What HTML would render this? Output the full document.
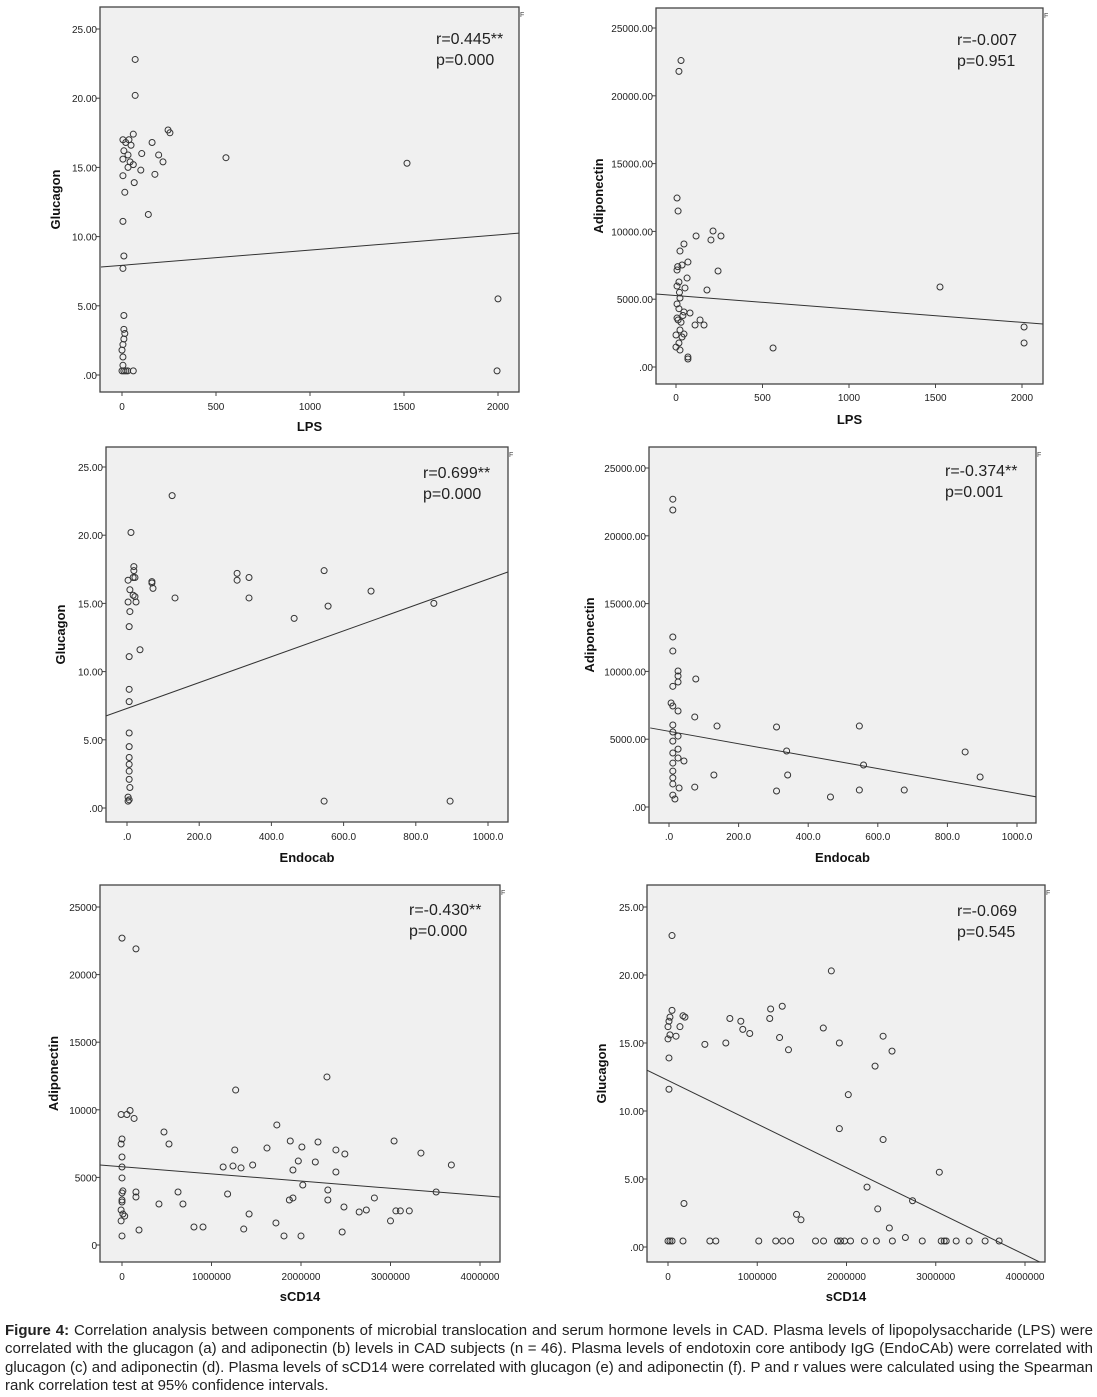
<!DOCTYPE html>
<html><head><meta charset="utf-8"><style>
body{margin:0;background:#fff;width:1097px;height:1397px;position:relative;overflow:hidden;font-family:"Liberation Sans",Arial,sans-serif}
#cap{position:absolute;left:5px;top:1322px;width:1088px;font-size:15px;line-height:18.3px;color:#222}
#cap div{white-space:nowrap;text-align:justify;text-align-last:justify}
#cap div.last{text-align-last:left}
</style></head><body>
<svg id="chart" width="1097" height="1320" style="position:absolute;left:0;top:0" xmlns="http://www.w3.org/2000/svg"></svg>
<div id="cap">
<div><b>Figure 4:</b> Correlation analysis between components of microbial translocation and serum hormone levels in CAD. Plasma levels of lipopolysaccharide (LPS) were</div>
<div>correlated with the glucagon (a) and adiponectin (b) levels in CAD subjects (n = 46). Plasma levels of endotoxin core antibody IgG (EndoCAb) were correlated with</div>
<div>glucagon (c) and adiponectin (d). Plasma levels of sCD14 were correlated with glucagon (e) and adiponectin (f). P and r values were calculated using the Spearman</div>
<div class="last">rank correlation test at 95% confidence intervals.</div>
</div>
<script>
// ---- Panel a: LPS vs Glucagon ----
const aX=[70,70,60,245,255,160,553,1516,105,195,218,175,100,65,140,5,20,37,48,10,32,5,43,60,32,5,15,5,10,5,10,10,15,10,5,0,5,5,0,10,20,30,60,2000,1995];
const aY=[22.8,20.2,17.4,17.7,17.5,16.8,15.7,15.3,16.0,15.9,15.4,14.5,14.8,13.9,11.6,17.0,16.8,17.0,16.6,16.2,15.9,15.6,15.4,15.2,15.0,14.4,13.2,11.1,8.6,7.7,4.3,3.3,3.0,2.6,2.2,1.8,1.3,0.7,0.3,0.3,0.3,0.3,0.3,5.5,0.3];
const aXTicks=[0,500,1000,1500,2000];const aXLabels=["0","500","1000","1500","2000"];
const aYTicks=[0,5,10,15,20,25];const aYLabels=[".00","5.00","10.00","15.00","20.00","25.00"];
const aFit=[[-112,7.8],[2112,10.25]];
// ---- Panel b: LPS vs Adiponectin ----
const bX=[17,29,6,12,214,260,202,116,46,23,69,35,6,243,64,17,6,52,179,1526,23,6,46,81,139,162,110,6,23,46,0,35,17,0,23,69,69,561,2012,2012,12,29,40,17,10,20];
const bY=[21800,22600,12460,11500,10030,9660,9370,9660,9070,8550,7740,7520,7150,7080,6560,6270,5970,5830,5680,5900,5090,4650,4060,3980,3470,3100,3100,3610,2730,2430,2360,2210,1770,1470,1250,740,590,1400,2950,1770,3470,3300,3800,4300,7400,5500];
const bXTicks=[0,500,1000,1500,2000];const bXLabels=["0","500","1000","1500","2000"];
const bYTicks=[0,5000,10000,15000,20000,25000];const bYLabels=[".00","5000.00","10000.00","15000.00","20000.00","25000.00"];
const bFit=[[-116,5380],[2121,3170]];
// ---- Panel c: Endocab vs Glucagon ----
const cX=[125,11,19,19,22,17,3,69,69,72,8,17,22,3,25,133,305,305,338,338,546,557,676,463,850,8,6,36,6,6,6,6,6,6,6,6,6,8,3,6,3,546,895];
const cY=[22.9,20.2,17.7,17.4,16.9,16.9,16.7,16.6,16.5,16.1,16.0,15.6,15.5,15.1,15.1,15.4,17.2,16.7,16.9,15.4,17.4,14.8,15.9,13.9,15.0,14.4,13.3,11.6,11.1,8.7,7.8,5.5,4.5,3.7,3.2,2.7,2.1,1.5,0.8,0.6,0.5,0.5,0.5];
const cXTicks=[0,200,400,600,800,1000];const cXLabels=[".0","200.0","400.0","600.0","800.0","1000.0"];
const cYTicks=[0,5,10,15,20,25];const cYLabels=[".00","5.00","10.00","15.00","20.00","25.00"];
const cFit=[[-58,6.75],[1055,17.3]];
// ---- Panel d: Endocab vs Adiponectin ----
const dX=[11,11,11,11,26,26,26,11,77,6,11,26,74,138,309,547,11,11,26,11,26,11,26,43,338,851,11,11,129,341,559,894,11,11,29,74,309,547,676,464,11,17];
const dY=[22700,21900,12540,11500,10030,9660,9220,8900,9440,7670,7450,7080,6640,5970,5900,5970,6050,5530,5230,4860,4270,3980,3610,3390,4130,4060,3240,2650,2360,2360,3100,2210,2150,1700,1400,1470,1180,1250,1250,740,880,590];
const dXTicks=[0,200,400,600,800,1000];const dXLabels=[".0","200.0","400.0","600.0","800.0","1000.0"];
const dYTicks=[0,5000,10000,15000,20000,25000];const dYLabels=[".00","5000.00","10000.00","15000.00","20000.00","25000.00"];
const dFit=[[-54,5830],[1057,740]];
// ---- Panel e: sCD14 vs Adiponectin ----
const eX=[0,156000,1270000,2290000,-10000,55000,90000,135000,469000,525000,0,-10000,0,0,0,10000,0,1730000,1260000,1620000,1880000,2010000,2190000,2390000,2490000,3040000,3340000,3680000,1130000,1330000,1460000,1240000,1970000,2160000,1910000,2390000,2020000,2300000,626000,1180000,156000,156000,0,0,681000,413000,1870000,1910000,2820000,2300000,2480000,2650000,2730000,3060000,3110000,3210000,3510000,1420000,-10000,10000,30000,-10000,190000,804000,905000,1360000,1720000,3000000,1810000,2000000,2460000,0];
const eY=[22700,21900,11460,12430,9650,9650,9950,9360,8360,7470,7840,7470,6510,5770,4960,4000,3180,8880,7030,7170,7690,7250,7620,7030,6730,7690,6800,5920,5770,5700,5920,5840,6210,6140,5550,5400,4440,4070,3920,3770,3920,3550,3850,3330,3030,3030,3330,3480,3480,3330,2810,2440,2590,2520,2520,2520,3920,2290,2590,2290,2140,1780,1110,1330,1330,1180,1630,1780,670,670,960,670];
const eXTicks=[0,1000000,2000000,3000000,4000000];const eXLabels=["0","1000000","2000000","3000000","4000000"];
const eYTicks=[0,5000,10000,15000,20000,25000];const eYLabels=["0","5000","10000","15000","20000","25000"];
const eFit=[[-246000,5920],[4220000,3550]];
// ---- Panel f: sCD14 vs Glucagon ----
const fX=[45000,1830000,45000,22000,11000,0,22000,0,90000,134000,190000,168000,693000,816000,838000,916000,1140000,1150000,1280000,1740000,1250000,1350000,413000,648000,1920000,2410000,2510000,2320000,11000,11000,2020000,1920000,2410000,3040000,2230000,2740000,179000,1440000,1490000,2350000,2480000,2660000,0,22000,45000,168000,469000,536000,1017000,1207000,1285000,1374000,1653000,1743000,1899000,1933000,1978000,2045000,2201000,2335000,2514000,2849000,3061000,3095000,3117000,3229000,3374000,3553000,3710000];
const fY=[22.9,20.3,17.4,16.9,16.6,16.2,15.6,15.3,15.5,16.2,16.9,17.0,16.8,16.6,16.0,15.7,16.8,17.5,17.7,16.1,15.4,14.5,14.9,15.0,15.0,15.5,14.4,13.3,13.9,11.6,11.2,8.7,7.9,5.5,4.4,3.4,3.2,2.4,2.0,2.8,1.4,0.7,0.44,0.44,0.44,0.44,0.44,0.44,0.44,0.44,0.44,0.44,0.44,0.44,0.44,0.44,0.44,0.44,0.44,0.44,0.44,0.44,0.44,0.44,0.44,0.44,0.44,0.44,0.44];
const fXTicks=[0,1000000,2000000,3000000,4000000];const fXLabels=["0","1000000","2000000","3000000","4000000"];
const fYTicks=[0,5,10,15,20,25];const fYLabels=[".00","5.00","10.00","15.00","20.00","25.00"];
const fFit=[[-235000,13.0],[4210000,-1.25]];

const NS="http://www.w3.org/2000/svg";
const svg=document.getElementById('chart');
function mk(tag,attrs,parent){const e=document.createElementNS(NS,tag);for(const k in attrs)e.setAttribute(k,attrs[k]);(parent||svg).appendChild(e);return e;}
function lin(p0,v0,p1,v1){return v=>p0+(v-v0)*(p1-p0)/(v1-v0);}

const panels=[
 {id:'a',L:100,T:7,R:519,B:392,xs:lin(122,0,498,2000),ys:lin(375,0,29,25),X:aX,Y:aY,xt:aXTicks,xl:aXLabels,yt:aYTicks,yl:aYLabels,fit:aFit,xt_y:410,xtitle:'LPS',xty:431,ytitle:'Glucagon',ytx:60,r:'r=0.445**',p:'p=0.000',ax:436,ay:44},
 {id:'b',L:656,T:8,R:1043,B:384,xs:lin(676,0,1022,2000),ys:lin(367,0,28,25000),X:bX,Y:bY,xt:bXTicks,xl:bXLabels,yt:bYTicks,yl:bYLabels,fit:bFit,xt_y:401,xtitle:'LPS',xty:424,ytitle:'Adiponectin',ytx:603,r:'r=-0.007',p:'p=0.951',ax:957,ay:45},
 {id:'c',L:106,T:447,R:508,B:822,xs:lin(127,0,488,1000),ys:lin(808,0,467,25),X:cX,Y:cY,xt:cXTicks,xl:cXLabels,yt:cYTicks,yl:cYLabels,fit:cFit,xt_y:840,xtitle:'Endocab',xty:862,ytitle:'Glucagon',ytx:65,r:'r=0.699**',p:'p=0.000',ax:423,ay:478},
 {id:'d',L:649,T:447,R:1036,B:823,xs:lin(669,0,1017,1000),ys:lin(807,0,468,25000),X:dX,Y:dY,xt:dXTicks,xl:dXLabels,yt:dYTicks,yl:dYLabels,fit:dFit,xt_y:840,xtitle:'Endocab',xty:862,ytitle:'Adiponectin',ytx:594,r:'r=-0.374**',p:'p=0.001',ax:945,ay:476},
 {id:'e',L:100,T:885,R:500,B:1262,xs:lin(122,0,480,4000000),ys:lin(1245,0,907,25000),X:eX,Y:eY,xt:eXTicks,xl:eXLabels,yt:eYTicks,yl:eYLabels,fit:eFit,xt_y:1280,xtitle:'sCD14',xty:1301,ytitle:'Adiponectin',ytx:58,r:'r=-0.430**',p:'p=0.000',ax:409,ay:915},
 {id:'f',L:647,T:885,R:1045,B:1262,xs:lin(668,0,1025,4000000),ys:lin(1247,0,907,25),X:fX,Y:fY,xt:fXTicks,xl:fXLabels,yt:fYTicks,yl:fYLabels,fit:fFit,xt_y:1280,xtitle:'sCD14',xty:1301,ytitle:'Glucagon',ytx:606,r:'r=-0.069',p:'p=0.545',ax:957,ay:916}
];
mk('defs',{}).innerHTML=panels.map(p=>`<clipPath id="clip-${p.id}"><rect x="${p.L}" y="${p.T}" width="${p.R-p.L}" height="${p.B-p.T}"/></clipPath>`).join('');

panels.forEach(p=>{
 const g=mk('g',{});
 
 
 const bg=mk('rect',{x:p.L,y:p.T,width:p.R-p.L,height:p.B-p.T,fill:'#f0f0f0',stroke:'#444','stroke-width':1.3},g);
 
 
 const fm=mk('text',{x:p.R+1,y:p.T+10,'font-size':7,fill:'#444'},g);fm.textContent='F';
 
 
 p.yt.forEach((v,i)=>{
  const y=p.ys(v);
  const tk=mk('line',{x1:p.L-4,x2:p.L,y1:y,y2:y,stroke:'#444'},g);
  
  
  const t=mk('text',{x:p.L-3,y:y+4,'text-anchor':'end','font-size':10,fill:'#222'},g);
  t.textContent=p.yl[i];
  
  
 });
 p.xt.forEach((v,i)=>{
  const x=p.xs(v);
  const tk=mk('line',{x1:x,x2:x,y1:p.B,y2:p.B+4,stroke:'#444'},g);
  
  
  const t=mk('text',{x:x,y:p.xt_y,'text-anchor':'middle','font-size':10,fill:'#222'},g);
  t.textContent=p.xl[i];
  
  
 });
 const xt=mk('text',{x:(p.L+p.R)/2,y:p.xty,'text-anchor':'middle','font-size':13,'font-weight':'bold',fill:'#111'},g);
 xt.textContent=p.xtitle;
 
 
 const cy=(p.T+p.B)/2;
 const yt=mk('text',{x:p.ytx,y:cy,'text-anchor':'middle','font-size':13,'font-weight':'bold',fill:'#111',transform:`rotate(-90 ${p.ytx} ${cy})`},g);
 yt.textContent=p.ytitle;
 
 
 const fl=mk('line',{x1:p.xs(p.fit[0][0]),y1:p.ys(p.fit[0][1]),x2:p.xs(p.fit[1][0]),y2:p.ys(p.fit[1][1]),stroke:'#333','stroke-width':1,'clip-path':`url(#clip-${p.id})`},g);
 
 
 p.X.forEach((xv,i)=>{
  const c=mk('circle',{cx:p.xs(xv),cy:p.ys(p.Y[i]),r:3,fill:'none',stroke:'#333','stroke-width':1},g);
  
  
 });
 const r=mk('text',{x:p.ax,y:p.ay,'font-size':16,fill:'#222'},g);r.textContent=p.r;
 
 
 const pv=mk('text',{x:p.ax,y:p.ay+21,'font-size':16,fill:'#222'},g);pv.textContent=p.p;
 
 
});
</script>
</body></html>
